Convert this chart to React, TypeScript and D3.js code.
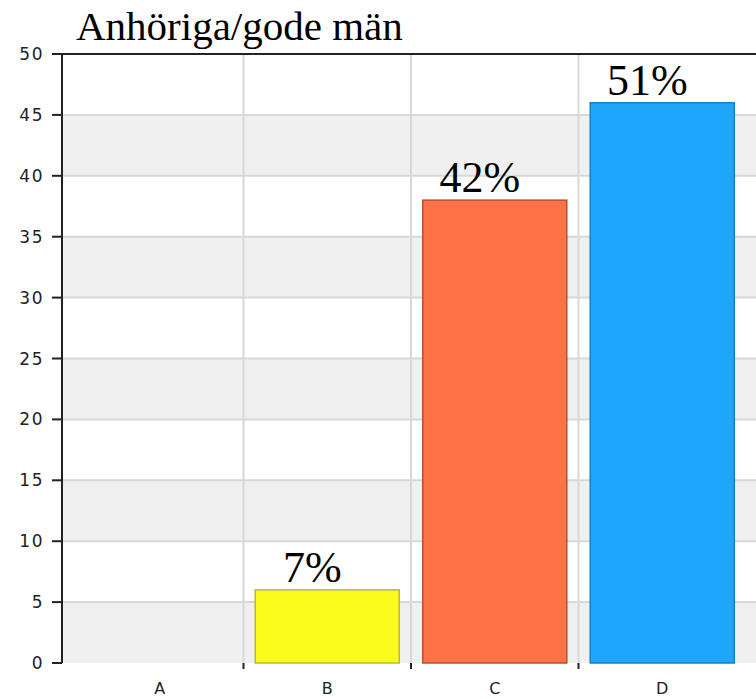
import React from "react";
import * as d3 from "d3";

const title = "Anhöriga/gode män";
const categories = ["A", "B", "C", "D"];
const values = [0, 6, 38, 46];
const barColors = ["#cccccc", "#fafa1c", "#ff7247", "#1ea6fc"];
const barStrokes = ["#999999", "#b8b83a", "#b5502f", "#1580c6"];
const yTicks = [0, 5, 10, 15, 20, 25, 30, 35, 40, 45, 50];

const W = 756;
const H = 699;

export default function App() {
  const y = d3.scaleLinear().domain([0, 50]).range([663, 54]);
  const x = d3
    .scaleBand<string>()
    .domain(categories)
    .range([76, 746])
    .paddingInner(0.14)
    .paddingOuter(0.07);
  const step = x.step();
  const half = (step - x.bandwidth()) / 2;
  const boundaries = categories.slice(1).map((c) => (x(c) as number) - half);
  const total = d3.sum(values);
  const left = 62;
  const right = W;

  const bands = d3.range(0, 50, 5).filter((v) => (v / 5) % 2 === 0);

  return (
    <svg
      width={W}
      height={H}
      style={{ position: "absolute", left: 0, top: 0, background: "#fff" }}
    >
      {bands.map((v) => (
        <rect
          key={"b" + v}
          x={left}
          y={y(v + 5)}
          width={right - left}
          height={y(v) - y(v + 5)}
          fill="#f0f0f0"
        />
      ))}
      {yTicks
        .filter((t) => t > 0 && t < 50)
        .map((t) => (
          <line
            key={"g" + t}
            x1={left}
            x2={right}
            y1={y(t)}
            y2={y(t)}
            stroke="#d8d8d8"
            strokeWidth={2}
          />
        ))}
      {boundaries.map((bx, i) => (
        <line
          key={"v" + i}
          x1={bx}
          x2={bx}
          y1={y(50)}
          y2={y(0)}
          stroke="#d8d8d8"
          strokeWidth={2}
        />
      ))}
      {categories.map((c, i) =>
        values[i] > 0 ? (
          <rect
            key={"bar" + c}
            x={x(c)}
            y={y(values[i])}
            width={x.bandwidth()}
            height={y(0) - y(values[i])}
            fill={barColors[i]}
            stroke={barStrokes[i]}
            strokeWidth={1.5}
          />
        ) : null
      )}
      {categories.map((c, i) =>
        values[i] > 0 ? (
          <text
            key={"lab" + c}
            x={(x(c) as number) + x.bandwidth() / 2 - 15}
            y={y(values[i]) - 8}
            textAnchor="middle"
            fontFamily="'Liberation Serif', 'Times New Roman', serif"
            fontSize={44}
            fill="#000"
          >
            {Math.round((values[i] / total) * 100) + "%"}
          </text>
        ) : null
      )}
      {/* axes */}
      <line x1={left} x2={left} y1={y(50) - 1} y2={y(0)} stroke="#222" strokeWidth={2} />
      <line x1={left} x2={right} y1={y(50)} y2={y(50)} stroke="#222" strokeWidth={2} />
      {yTicks.map((t) => (
        <g key={"t" + t}>
          <line x1={52} x2={left} y1={y(t)} y2={y(t)} stroke="#222" strokeWidth={2} />
          <text
            x={44}
            y={y(t) + 6}
            textAnchor="end"
            fontFamily="'DejaVu Sans', sans-serif"
            fontSize={17}
            letterSpacing={1.5}
            fill="#222"
          >
            {t}
          </text>
        </g>
      ))}
      {boundaries.map((bx, i) => (
        <line key={"xt" + i} x1={bx} x2={bx} y1={y(0)} y2={y(0) + 6} stroke="#222" strokeWidth={2} />
      ))}
      {categories.map((c) => (
        <text
          key={"cl" + c}
          x={(x(c) as number) + x.bandwidth() / 2}
          y={694}
          textAnchor="middle"
          fontFamily="'DejaVu Sans', sans-serif"
          fontSize={16}
          fill="#222"
        >
          {c}
        </text>
      ))}
      <text
        x={76}
        y={40}
        fontFamily="'Liberation Serif', 'Times New Roman', serif"
        fontSize={41}
        fill="#000"
      >
        {title}
      </text>
    </svg>
  );
}
